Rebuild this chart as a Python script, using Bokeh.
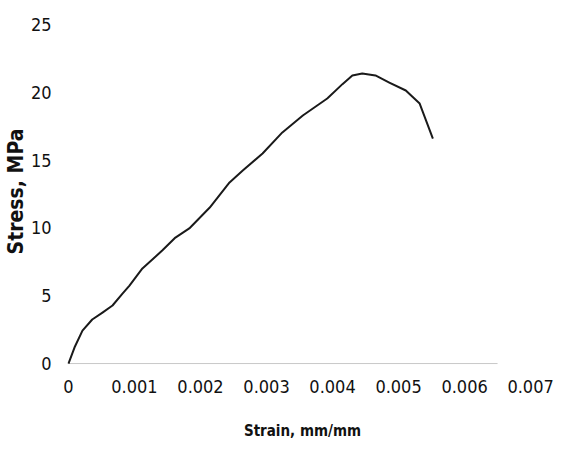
from bokeh.plotting import figure
from bokeh.models import Range1d, FixedTicker
from bokeh.embed import file_html
from bokeh.resources import INLINE

# Data
strain = [0.0, 0.000091, 0.000212, 0.000360, 0.000515, 0.000667, 0.000818, 0.000924, 0.00112, 0.00142,
          0.00162, 0.00183, 0.00214, 0.00244, 0.00264, 0.00294, 0.00324, 0.00355,
          0.00392, 0.00415, 0.00430, 0.00445, 0.00465, 0.00486, 0.00511, 0.00532, 0.00552]
stress = [0.0, 1.18, 2.43, 3.25, 3.76, 4.28, 5.16, 5.75, 7.01, 8.33,
          9.29, 9.96, 11.50, 13.35, 14.23, 15.49, 17.04, 18.29,
          19.54, 20.60, 21.24, 21.39, 21.24, 20.72, 20.13, 19.17, 16.59]
x_ticks = [0, 0.001, 0.002, 0.003, 0.004, 0.005, 0.006, 0.007]
x_tick_labels = ["0", "0.001", "0.002", "0.003", "0.004", "0.005", "0.006", "0.007"]
y_ticks = [0, 5, 10, 15, 20, 25]
baseline_x = [0, 0.0065]
baseline_y = [0, 0]

FONT = "'DejaVu Sans Condensed', Roboto, sans-serif"

p = figure(width=570, height=450, output_backend="svg", toolbar_location=None,
           x_range=Range1d(-0.000136, 0.007226), y_range=Range1d(-0.66, 26.03),
           min_border_left=20, min_border_right=25, min_border_top=10, min_border_bottom=78)
p.outline_line_color = None
p.grid.visible = False
p.background_fill_color = "white"
p.border_fill_color = "white"

p.line(baseline_x, baseline_y, line_color="#c8c8c8", line_width=1)
p.line(strain, stress, line_color="#1a1a1a", line_width=2, line_join="round")

for ax in (p.xaxis[0], p.yaxis[0]):
    ax.axis_line_color = None
    ax.major_tick_line_color = None
    ax.minor_tick_line_color = None
    ax.major_label_text_font = FONT
    ax.major_label_text_font_size = "18px"
    ax.major_label_text_color = "#111111"
    ax.axis_label_text_font = FONT
    ax.axis_label_text_font_style = "bold"
    ax.axis_label_text_color = "#111111"

p.xaxis.ticker = FixedTicker(ticks=x_ticks)
p.xaxis.major_label_overrides = {t: l for t, l in zip(x_ticks, x_tick_labels)}
p.xaxis.major_label_standoff = 1
p.xaxis.axis_label = "Strain, mm/mm"
p.xaxis.axis_label_standoff = 26
p.xaxis.axis_label_text_font_size = "15px"

p.yaxis.ticker = FixedTicker(ticks=y_ticks)
p.yaxis.major_label_standoff = 2
p.yaxis.axis_label = "Stress, MPa"
p.yaxis.axis_label_standoff = 0
p.yaxis.axis_label_text_font_size = "21px"

open("out.html", "w").write(file_html(p, INLINE))
